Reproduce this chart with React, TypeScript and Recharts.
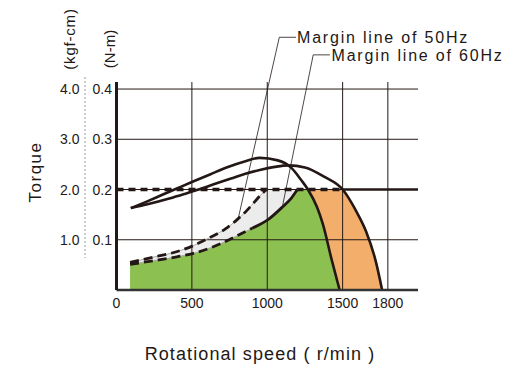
import React from 'react';
import { ComposedChart, Line, Area, XAxis, YAxis, ReferenceLine } from 'recharts';

type Pt = { rpm: number; t: number };
const pt = (rpm: number, t: number): Pt => ({ rpm, t });

// torque (N-m) against rotational speed (r/min)
const pullout50: Pt[] = [
  pt(95, 0.163), pt(200, 0.176), pt(300, 0.189), pt(400, 0.202), pt(500, 0.215), pt(620, 0.23),
  pt(730, 0.244), pt(850, 0.256), pt(950, 0.263), pt(1070, 0.258), pt(1160, 0.243),
  pt(1225, 0.219), pt(1270, 0.2), pt(1330, 0.165), pt(1370, 0.13), pt(1425, 0.063), pt(1480, 0),
];
const pullout60: Pt[] = [
  pt(95, 0.163), pt(212, 0.171), pt(350, 0.182), pt(450, 0.191), pt(545, 0.2), pt(650, 0.211),
  pt(760, 0.222), pt(850, 0.231), pt(950, 0.239), pt(1050, 0.245), pt(1140, 0.248), pt(1250, 0.244),
  pt(1380, 0.225), pt(1500, 0.2), pt(1590, 0.157), pt(1655, 0.117), pt(1720, 0.057), pt(1762, 0),
];
const margin50: Pt[] = [
  pt(90, 0.055), pt(255, 0.066), pt(360, 0.073), pt(508, 0.088), pt(590, 0.1), pt(650, 0.109),
  pt(720, 0.121), pt(800, 0.14), pt(870, 0.16), pt(920, 0.177), pt(970, 0.193), pt(995, 0.2),
];
const margin60: Pt[] = [
  pt(90, 0.051), pt(280, 0.06), pt(400, 0.066), pt(510, 0.073), pt(650, 0.087), pt(800, 0.108),
  pt(900, 0.123), pt(1005, 0.14), pt(1100, 0.165), pt(1160, 0.183), pt(1200, 0.2),
];

const RATED = 0.2;
const xTicks = [0, 500, 1000, 1500, 1800];
const nmTicks = [0.1, 0.2, 0.3, 0.4];
const kgfTicks = ['1.0', '2.0', '3.0', '4.0'];
const gridX = [500, 1000, 1500, 1800];
const gridY = [0.1, 0.3, 0.4];

// derived fill outlines
const grayTop = [...margin50, margin60[margin60.length - 1]];
const greenTop = [...margin60, ...pullout50.filter((p) => p.rpm > 1000 && p.t <= RATED)];
const orangeTop = [
  pullout50.find((p) => p.rpm > 1000 && p.t <= RATED)!,
  ...pullout60.filter((p) => p.rpm > 1000 && p.t <= RATED),
];
const split60 = margin60.findIndex((p) => p.rpm >= 900);

// leader lines for the two notes, in chart units
const leader50 = [pt(808, 0.143), pt(1080, 0.503), pt(1191, 0.503)];
const leader60 = [pt(1100, 0.165), pt(1305, 0.468), pt(1416, 0.468)];

const INK = '#231815';
const FONT = '"Liberation Sans", Arial, sans-serif';
const PLOT_LEFT = 116.5;

const YTick = (props: any) => {
  const { y, payload, index } = props;
  return (
    <g fontFamily={FONT} fontSize={14} fill={INK}>
      <text x={PLOT_LEFT - 4.5} y={y} dy="0.36em" textAnchor="end">{payload.value.toFixed(1)}</text>
      <text x={79.5} y={y} dy="0.36em" textAnchor="end">{kgfTicks[index]}</text>
    </g>
  );
};

const seg = (a: Pt, b: Pt) => [{ x: a.rpm, y: a.t }, { x: b.rpm, y: b.t }];

export default function App() {
  return (
    <div style={{ position: 'absolute', left: 0, top: 0, width: 523, height: 366, background: '#fff' }}>
      <ComposedChart width={523} height={366} margin={{ top: 82, right: 105, left: 56.5, bottom: 46 }}>
        <XAxis
          dataKey="rpm"
          type="number"
          domain={[0, 2000]}
          ticks={xTicks}
          allowDataOverflow
          tickLine={false}
          axisLine={{ stroke: '#333', strokeWidth: 2.5 }}
          tick={{ fontSize: 14, fill: INK, fontFamily: FONT }}
          height={30}
        />
        <YAxis
          dataKey="t"
          type="number"
          domain={[0, 0.414]}
          ticks={nmTicks}
          allowDataOverflow
          tickLine={false}
          axisLine={{ stroke: INK, strokeWidth: 3 }}
          tick={<YTick />}
          width={60}
        />

        <Area data={orangeTop} dataKey="t" type="monotone" fill="#f4ae6b" fillOpacity={1} stroke="none" isAnimationActive={false} />
        <Area data={grayTop} dataKey="t" type="monotone" fill="#ececec" fillOpacity={1} stroke="none" isAnimationActive={false} />
        <Area data={greenTop} dataKey="t" type="monotone" fill="#8cc152" fillOpacity={1} stroke="none" isAnimationActive={false} />

        {gridX.map((v) => (
          <ReferenceLine key={'gx' + v} x={v} stroke={INK} strokeWidth={1} />
        ))}
        {gridY.map((v) => (
          <ReferenceLine key={'gy' + v} y={v} stroke={INK} strokeWidth={1} />
        ))}
        <ReferenceLine segment={[{ x: 0, y: RATED }, { x: 1500, y: RATED }]} stroke={INK} strokeWidth={1.2} />
        <ReferenceLine segment={[{ x: 0, y: RATED }, { x: 1500, y: RATED }]} stroke={INK} strokeWidth={3.5} strokeDasharray="7 5" />
        <ReferenceLine segment={[{ x: 1500, y: RATED }, { x: 2000, y: RATED }]} stroke={INK} strokeWidth={2.5} />

        <Line data={margin50} dataKey="t" type="monotone" stroke="#aaa" strokeWidth={1} dot={false} isAnimationActive={false} />
        <Line data={margin50} dataKey="t" type="monotone" stroke={INK} strokeWidth={2.8} strokeDasharray="9 5" dot={false} isAnimationActive={false} />
        <Line data={margin60} dataKey="t" type="monotone" stroke="#aaa" strokeWidth={1} dot={false} isAnimationActive={false} />
        <Line data={margin60.slice(0, split60 + 1)} dataKey="t" type="monotone" stroke={INK} strokeWidth={2.8} strokeDasharray="9 5" dot={false} isAnimationActive={false} />
        <Line data={margin60.slice(split60)} dataKey="t" type="monotone" stroke={INK} strokeWidth={2.8} dot={false} isAnimationActive={false} />
        <Line data={pullout50} dataKey="t" type="monotone" stroke={INK} strokeWidth={2.6} dot={false} isAnimationActive={false} />
        <Line data={pullout60} dataKey="t" type="monotone" stroke={INK} strokeWidth={2.6} dot={false} isAnimationActive={false} />

        <ReferenceLine segment={seg(leader50[0], leader50[1])} stroke={INK} strokeWidth={0.8} ifOverflow="visible" />
        <ReferenceLine segment={seg(leader50[1], leader50[2])} stroke={INK} strokeWidth={0.8} ifOverflow="visible" />
        <ReferenceLine segment={seg(leader60[0], leader60[1])} stroke={INK} strokeWidth={0.8} ifOverflow="visible" />
        <ReferenceLine segment={seg(leader60[1], leader60[2])} stroke={INK} strokeWidth={0.8} ifOverflow="visible" />
      </ComposedChart>

      <svg width={523} height={366} style={{ position: 'absolute', left: 0, top: 0, pointerEvents: 'none' }} fontFamily={FONT} fill={INK}>
        <line x1={85} y1={77} x2={85} y2={258} stroke="#999" strokeWidth={1} strokeDasharray="2 2" />
        <text transform="translate(69.5,39) rotate(-90)" textAnchor="middle" dominantBaseline="central" fontSize={15} letterSpacing={0.8}>(kgf-cm)</text>
        <text transform="translate(109,49) rotate(-90)" textAnchor="middle" dominantBaseline="central" fontSize={15}>(N-m)</text>
        <text transform="translate(35,172) rotate(-90)" textAnchor="middle" dominantBaseline="central" fontSize={17} letterSpacing={1.5}>Torque</text>
        <text x={297} y={43} fontSize={16} letterSpacing={1.8}>Margin line of 50Hz</text>
        <text x={331.5} y={61} fontSize={16} letterSpacing={1.8}>Margin line of 60Hz</text>
        <text x={260} y={360} textAnchor="middle" fontSize={18} letterSpacing={1.1}>Rotational speed ( r/min )</text>
      </svg>
    </div>
  );
}
